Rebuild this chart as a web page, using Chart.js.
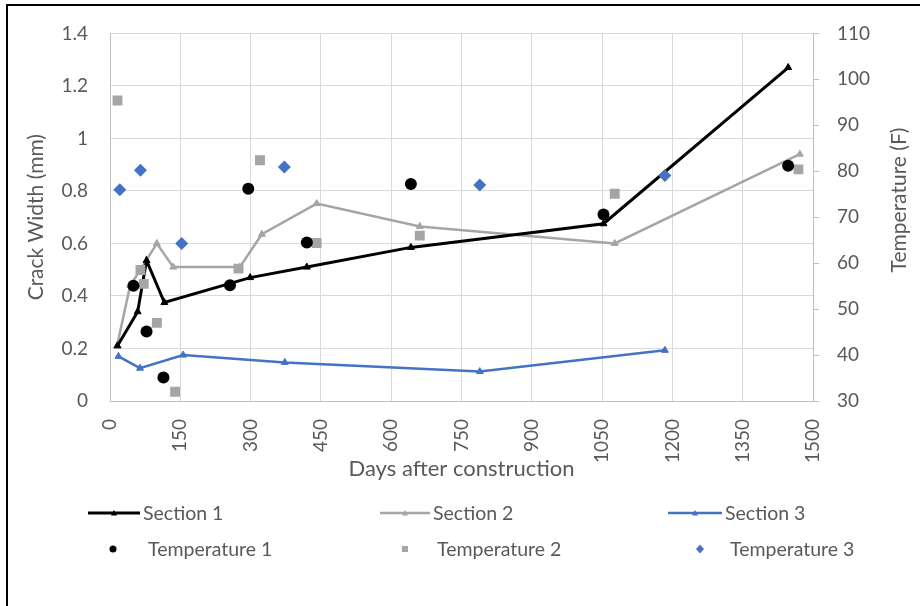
<!DOCTYPE html>
<html><head><meta charset="utf-8">
<script src="https://cdn.jsdelivr.net/npm/chart.js@4.4.0/dist/chart.umd.min.js"></script>
<style>
body{margin:0;background:#fff;}
#wrap{position:relative;width:920px;height:606px;overflow:hidden;font-family:Lato, sans-serif;}
#frame{position:absolute;left:6px;top:4px;width:930px;height:620px;border-left:2px solid #000;border-top:2px solid #000;pointer-events:none;}
.lt{position:absolute;color:#595959;font-size:19.5px;line-height:22px;white-space:nowrap;}
.ls{position:absolute;}
</style></head><body>
<div id="wrap"><canvas id="c" width="920" height="606"></canvas><div id="legend"></div><div id="frame"></div></div>
<script>
// ---- data ----
const xTicks = [0,150,300,450,600,750,900,1050,1200,1350,1500];
const leftTicks = [0,0.2,0.4,0.6,0.8,1,1.2,1.4];
const rightTicks = [30,40,50,60,70,80,90,100,110];

const s1Days  = [16, 59, 78, 116, 299, 420, 642, 1053, 1447];
const s1Crack = [0.21, 0.34, 0.535, 0.375, 0.47, 0.51, 0.585, 0.675, 1.27];

const s2Days  = [15, 43, 65, 100, 135, 277, 324, 441, 661, 1077, 1472];
const s2Crack = [0.21, 0.44, 0.50, 0.60, 0.51, 0.51, 0.635, 0.752, 0.665, 0.60, 0.94];

const s3Days  = [18, 64, 156, 373, 789, 1184];
const s3Crack = [0.17, 0.125, 0.175, 0.147, 0.112, 0.193];

const t1Days = [50, 78, 114, 256, 295, 420, 642, 1053, 1447];
const t1Temp = [55.1, 45.1, 35.1, 55.2, 76.2, 64.5, 77.2, 70.6, 81.2];

const t2Days = [16, 65, 72, 100, 139, 274, 320, 441, 661, 1077, 1469];
const t2Temp = [95.4, 58.5, 55.5, 47, 32, 58.8, 82.4, 64.4, 66, 75.1, 80.4];

const t3Days = [21, 65, 153, 372, 789, 1184];
const t3Temp = [76, 80.2, 64.3, 80.9, 77, 79.1];

const labels = ['Section 1','Section 2','Section 3','Temperature 1','Temperature 2','Temperature 3'];

// ---- build ----
const zip = (xs, ys) => xs.map((x, i) => ({x, y: ys[i]}));
const BLACK = '#000000', GREY = '#a5a5a5', BLUE = '#4472c4', TXT = '#595959', GRID = '#d9d9d9', AXIS = '#bfbfbf';
const FONT = 'Lato';

const lineDs = (label, data, color, w) => ({
  label, data, yAxisID: 'y', showLine: true, borderColor: color, backgroundColor: color,
  borderWidth: w, pointStyle: 'triangle', pointRadius: 4, pointBorderWidth: 1, tension: 0, order: 2
});
const ptDs = (label, data, color, style, r) => ({
  label, data, yAxisID: 'y1', showLine: false, borderColor: color, backgroundColor: color,
  pointStyle: style, pointRadius: r, pointBorderWidth: 0, order: 1
});

const rightTitle = {
  id: 'rightTitle',
  afterDraw(chart) {
    const ctx = chart.ctx;
    ctx.save();
    ctx.translate(899, 200);
    ctx.rotate(-Math.PI / 2);
    ctx.font = '21px ' + FONT;
    ctx.fillStyle = TXT;
    ctx.textAlign = 'center';
    ctx.textBaseline = 'middle';
    ctx.fillText('Temperature (F)', 0, 0);
    ctx.restore();
  }
};

new Chart(document.getElementById('c'), {
  type: 'scatter',
  data: { datasets: [
    lineDs(labels[0], zip(s1Days, s1Crack), BLACK, 3),
    lineDs(labels[1], zip(s2Days, s2Crack), GREY, 2.5),
    lineDs(labels[2], zip(s3Days, s3Crack), BLUE, 2.5),
    ptDs(labels[3], zip(t1Days, t1Temp), BLACK, 'circle', 6),
    ptDs(labels[4], zip(t2Days, t2Temp), GREY, 'rect', 7),
    ptDs(labels[5], zip(t3Days, t3Temp), BLUE, 'rectRot', 6.5)
  ]},
  options: {
    responsive: false, animation: false,
    layout: { padding: { top: 33, bottom: 122, left: 0, right: 0 } },
    plugins: { legend: { display: false }, tooltip: { enabled: false } },
    scales: {
      x: {
        type: 'linear', min: 0, max: 1500,
        afterBuildTicks: s => { s.ticks = xTicks.map(v => ({value: v})); },
        afterFit: s => { s.height = 83; },
        grid: { color: GRID, drawTicks: false, lineWidth: 1 },
        border: { color: AXIS },
        ticks: { color: TXT, font: { family: FONT, size: 19 }, minRotation: 90, maxRotation: 90, padding: 18, callback: v => String(v) },
        title: { display: true, text: 'Days after construction', color: TXT, font: { family: FONT, size: 22 }, padding: { top: 0, bottom: 2 } }
      },
      y: {
        position: 'left', min: 0, max: 1.4,
        afterBuildTicks: s => { s.ticks = leftTicks.map(v => ({value: v})); },
        afterFit: s => { s.width = 110; },
        grid: { color: GRID, drawTicks: false },
        border: { color: AXIS },
        ticks: { color: TXT, font: { family: FONT, size: 19 }, padding: 22, callback: v => String(v) },
        title: { display: true, text: 'Crack Width (mm)', color: TXT, font: { family: FONT, size: 21 }, padding: { top: 24, bottom: 0 } }
      },
      y1: {
        position: 'right', min: 30, max: 110,
        afterBuildTicks: s => { s.ticks = rightTicks.map(v => ({value: v})); },
        afterFit: s => { s.width = 107; },
        grid: { drawOnChartArea: false, drawTicks: true, tickLength: 6, color: AXIS },
        border: { color: AXIS },
        ticks: { color: TXT, font: { family: FONT, size: 19 }, padding: 18, callback: v => String(v) }
      }
    }
  },
  plugins: [rightTitle]
});

// ---- legend (HTML) ----
const leg = document.getElementById('legend');
const svgNS = 'http://www.w3.org/2000/svg';
function addSvg(x, y, w, h, inner) {
  const s = document.createElementNS(svgNS, 'svg');
  s.setAttribute('width', w); s.setAttribute('height', h);
  s.setAttribute('class', 'ls');
  s.style.left = x + 'px'; s.style.top = y + 'px';
  s.innerHTML = inner;
  leg.appendChild(s);
}
function addText(x, yc, t) {
  const d = document.createElement('div');
  d.className = 'lt'; d.textContent = t;
  d.style.left = x + 'px'; d.style.top = (yc - 11) + 'px';
  leg.appendChild(d);
}
const row1 = 513, row2 = 549;
const lineItems = [[88, 143, BLACK, 3], [380, 433, GREY, 2.5], [668, 725, BLUE, 2.5]];
lineItems.forEach((it, i) => {
  const [x0, tx, c, w] = it;
  const len = tx - x0 - 3;
  addSvg(x0, row1 - 6, len, 12,
    `<line x1="0" y1="6" x2="${len}" y2="6" stroke="${c}" stroke-width="${w}"/>` +
    `<polygon points="${len/2-3},8.5 ${len/2+3},8.5 ${len/2},3" fill="${c}"/>`);
  addText(tx, row1, labels[i]);
});
addSvg(108, row2 - 5, 10, 10, `<circle cx="5" cy="5" r="3.5" fill="${BLACK}"/>`);
addText(148, row2, labels[3]);
addSvg(400, row2 - 5, 10, 10, `<rect x="2" y="2" width="6" height="6" fill="${GREY}"/>`);
addText(437, row2, labels[4]);
addSvg(695, row2 - 5, 10, 10, `<polygon points="5,0.5 9,5 5,9.5 1,5" fill="${BLUE}"/>`);
addText(730, row2, labels[5]);
</script>
</body></html>
